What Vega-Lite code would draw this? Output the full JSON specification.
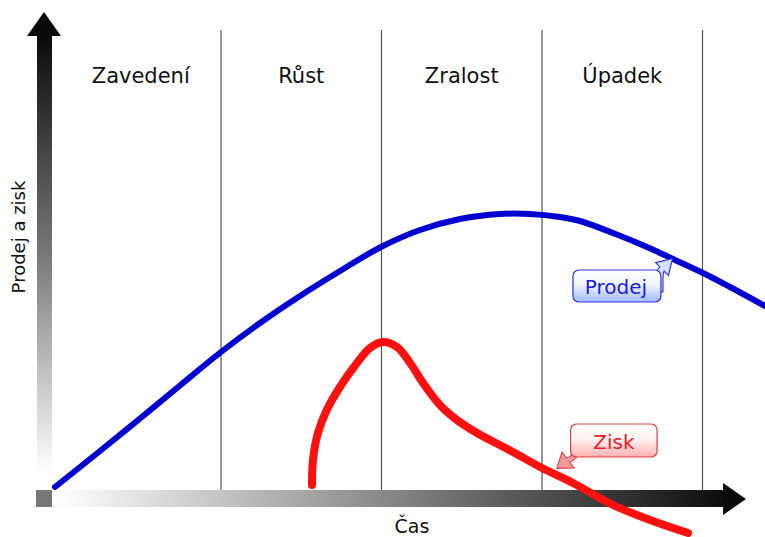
{
  "$schema": "https://vega.github.io/schema/vega-lite/v6.json",
  "width": 765,
  "height": 537,
  "autosize": {"type": "none"},
  "padding": 0,
  "background": "white",
  "config": {"view": {"stroke": null}, "font": "DejaVu Sans"},
  "datasets": {
    "phases": [
      {"t": 10, "v": 94, "v2": 2},
      {"t": 20, "v": 94, "v2": 2},
      {"t": 30, "v": 94, "v2": 2},
      {"t": 40, "v": 94, "v2": 2}
    ],
    "labels": [
      {"label": "Zavedení", "t": 5, "v": 84.6},
      {"label": "Růst", "t": 15, "v": 84.6},
      {"label": "Zralost", "t": 25, "v": 84.6},
      {"label": "Úpadek", "t": 35, "v": 84.6}
    ],
    "yshaft": [{"t": -1.464, "t2": -0.53, "v": 92.8, "v2": 2}],
    "yhead": [
      {"v": 92.8, "t": -2.087, "t2": 0.031},
      {"v": 97.6, "t": -1.028, "t2": -1.028}
    ],
    "xshaft": [{"t": -0.53, "t2": 41.34, "v": 2.0, "v2": -1.4}],
    "xhead": [
      {"t": 41.28, "v": 3.4, "v2": -3.0},
      {"t": 42.71, "v": 0.2, "v2": 0.2}
    ],
    "origin": [{"t": -1.526, "t2": -0.53, "v": 2.0, "v2": -1.4}],
    "prodej": [
      {"t": -0.343, "v": 2.6}, {"t": 2.461, "v": 9.8}, {"t": 4.953, "v": 16.3},
      {"t": 7.445, "v": 22.9}, {"t": 10.0, "v": 29.6}, {"t": 12.43, "v": 35.4},
      {"t": 14.922, "v": 40.8}, {"t": 17.414, "v": 45.8}, {"t": 19.969, "v": 50.6},
      {"t": 22.399, "v": 54.0}, {"t": 24.891, "v": 56.2}, {"t": 27.383, "v": 57.2},
      {"t": 29.252, "v": 57.2}, {"t": 31.121, "v": 56.6}, {"t": 32.368, "v": 55.8},
      {"t": 34.424, "v": 53.4}, {"t": 36.542, "v": 50.6}, {"t": 38.162, "v": 48.2},
      {"t": 40.031, "v": 45.4}, {"t": 41.713, "v": 42.6}, {"t": 43.894, "v": 38.8}
    ],
    "zisk": [
      {"t": 15.67, "v": 3.0}, {"t": 15.73, "v": 8.0}, {"t": 16.04, "v": 13.4},
      {"t": 16.59, "v": 18.0}, {"t": 17.41, "v": 22.6}, {"t": 18.47, "v": 27.4},
      {"t": 19.28, "v": 30.4}, {"t": 20.09, "v": 31.6}, {"t": 20.97, "v": 30.6},
      {"t": 21.78, "v": 27.4}, {"t": 22.59, "v": 23.4}, {"t": 23.64, "v": 19.0},
      {"t": 24.70, "v": 16.0}, {"t": 25.95, "v": 13.4}, {"t": 26.76, "v": 12.0},
      {"t": 28.19, "v": 9.6}, {"t": 30.0, "v": 6.4}, {"t": 31.93, "v": 3.4},
      {"t": 34.42, "v": -1.0}, {"t": 36.73, "v": -4.0}, {"t": 39.10, "v": -6.6}
    ],
    "prodejArrow": [{"t": 37.6, "v": 46}],
    "ziskArrow": [{"t": 31.745, "v": 9}],
    "prodejBox": [{"t": 31.93, "t2": 37.41, "v": 46, "v2": 39.6}],
    "ziskBox": [{"t": 31.78, "t2": 37.17, "v": 15.2, "v2": 8.6}],
    "calloutText": [
      {"label": "Prodej", "t": 34.61, "v": 41.2},
      {"label": "Zisk", "t": 34.48, "v": 10.2}
    ],
    "xtitle": [{"label": "Čas", "t": 21.9, "v": -6.6}],
    "ytitle": [{"label": "Prodej a zisk", "t": -2.212, "v": 52.6}]
  },
  "encoding": {
    "x": {"field": "t", "type": "quantitative", "scale": {"domain": [-3.769, 43.894], "nice": false, "zero": false}, "axis": null},
    "y": {"field": "v", "type": "quantitative", "scale": {"domain": [-7.4, 100], "nice": false, "zero": false}, "axis": null}
  },
  "layer": [
    {
      "data": {"name": "phases"},
      "mark": {"type": "rule", "color": "#555555", "strokeWidth": 1.2},
      "encoding": {"y2": {"field": "v2"}}
    },
    {
      "data": {"name": "labels"},
      "mark": {"type": "text", "fontSize": 21, "align": "center", "baseline": "middle", "color": "#111111"},
      "encoding": {"text": {"field": "label"}}
    },
    {
      "data": {"name": "yshaft"},
      "mark": {"type": "rect", "fill": {"gradient": "linear", "x1": 0, "y1": 0, "x2": 0, "y2": 1, "stops": [{"offset": 0, "color": "#0a0a0a"}, {"offset": 0.5, "color": "#7d7d7d"}, {"offset": 0.96, "color": "#ffffff"}, {"offset": 1, "color": "#ffffff"}]}},
      "encoding": {"x2": {"field": "t2"}, "y2": {"field": "v2"}}
    },
    {
      "data": {"name": "yhead"},
      "mark": {"type": "area", "orient": "horizontal", "color": "#0a0a0a"},
      "encoding": {"x2": {"field": "t2"}}
    },
    {
      "data": {"name": "xshaft"},
      "mark": {"type": "rect", "fill": {"gradient": "linear", "x1": 0, "y1": 0, "x2": 1, "y2": 0, "stops": [{"offset": 0, "color": "#ffffff"}, {"offset": 0.03, "color": "#fafafa"}, {"offset": 1, "color": "#0d0d0d"}]}},
      "encoding": {"x2": {"field": "t2"}, "y2": {"field": "v2"}}
    },
    {
      "data": {"name": "xhead"},
      "mark": {"type": "area", "orient": "vertical", "color": "#0a0a0a"},
      "encoding": {"y2": {"field": "v2"}}
    },
    {
      "data": {"name": "origin"},
      "mark": {"type": "rect", "color": "#777777"},
      "encoding": {"x2": {"field": "t2"}, "y2": {"field": "v2"}}
    },
    {
      "data": {"name": "prodej"},
      "mark": {"type": "line", "color": "#0000d0", "strokeWidth": 6, "strokeCap": "round", "interpolate": "catmull-rom"}
    },
    {
      "data": {"name": "zisk"},
      "mark": {"type": "line", "color": "#ff1010", "strokeWidth": 8, "strokeCap": "round", "interpolate": "catmull-rom"}
    },
    {
      "data": {"name": "prodejArrow"},
      "mark": {"type": "point", "shape": "M-8,22 L-8,8 Q-8,0 -4.1,-3.1 L-8.4,-7.4 L8.6,-11.6 L4.4,5.4 L0.1,1.1 Q-1,3 -1,10 L-1,22 Z", "size": 4, "filled": true, "fill": "#d6e0ff", "stroke": "#2a2ad8", "strokeWidth": 1.1, "opacity": 1}
    },
    {
      "data": {"name": "ziskArrow"},
      "mark": {"type": "point", "shape": "M4,-10 L4,-3 Q2,1 -3.5,3 L-8,-3 L-13.2,13.4 L4,13 L-0.5,7 Q8,4 9,-3 L9,-10 Z", "size": 4, "filled": true, "fill": "#f29a9a", "stroke": "#d84040", "strokeWidth": 1.1, "opacity": 1}
    },
    {
      "data": {"name": "prodejBox"},
      "mark": {"type": "rect", "cornerRadius": 6, "stroke": "#3030d8", "strokeWidth": 1.2, "fill": {"gradient": "linear", "x1": 0, "y1": 0, "x2": 0, "y2": 1, "stops": [{"offset": 0, "color": "#ffffff"}, {"offset": 0.45, "color": "#f2f6ff"}, {"offset": 1, "color": "#9fbaff"}]}},
      "encoding": {"x2": {"field": "t2"}, "y2": {"field": "v2"}}
    },
    {
      "data": {"name": "ziskBox"},
      "mark": {"type": "rect", "cornerRadius": 6, "stroke": "#d84040", "strokeWidth": 1.2, "fill": {"gradient": "linear", "x1": 0, "y1": 0, "x2": 0, "y2": 1, "stops": [{"offset": 0, "color": "#ffffff"}, {"offset": 0.45, "color": "#fff2f2"}, {"offset": 1, "color": "#ffb0b0"}]}},
      "encoding": {"x2": {"field": "t2"}, "y2": {"field": "v2"}}
    },
    {
      "data": {"name": "calloutText"},
      "mark": {"type": "text", "fontSize": 20, "align": "center", "baseline": "alphabetic"},
      "encoding": {
        "text": {"field": "label"},
        "color": {"field": "label", "type": "nominal", "scale": {"domain": ["Prodej", "Zisk"], "range": ["#1c1cd6", "#ec1c24"]}, "legend": null}
      }
    },
    {
      "data": {"name": "xtitle"},
      "mark": {"type": "text", "fontSize": 19, "align": "center", "baseline": "alphabetic", "color": "#111111"},
      "encoding": {"text": {"field": "label"}}
    },
    {
      "data": {"name": "ytitle"},
      "mark": {"type": "text", "fontSize": 18, "align": "center", "baseline": "alphabetic", "angle": 270, "color": "#111111"},
      "encoding": {"text": {"field": "label"}}
    }
  ]
}
